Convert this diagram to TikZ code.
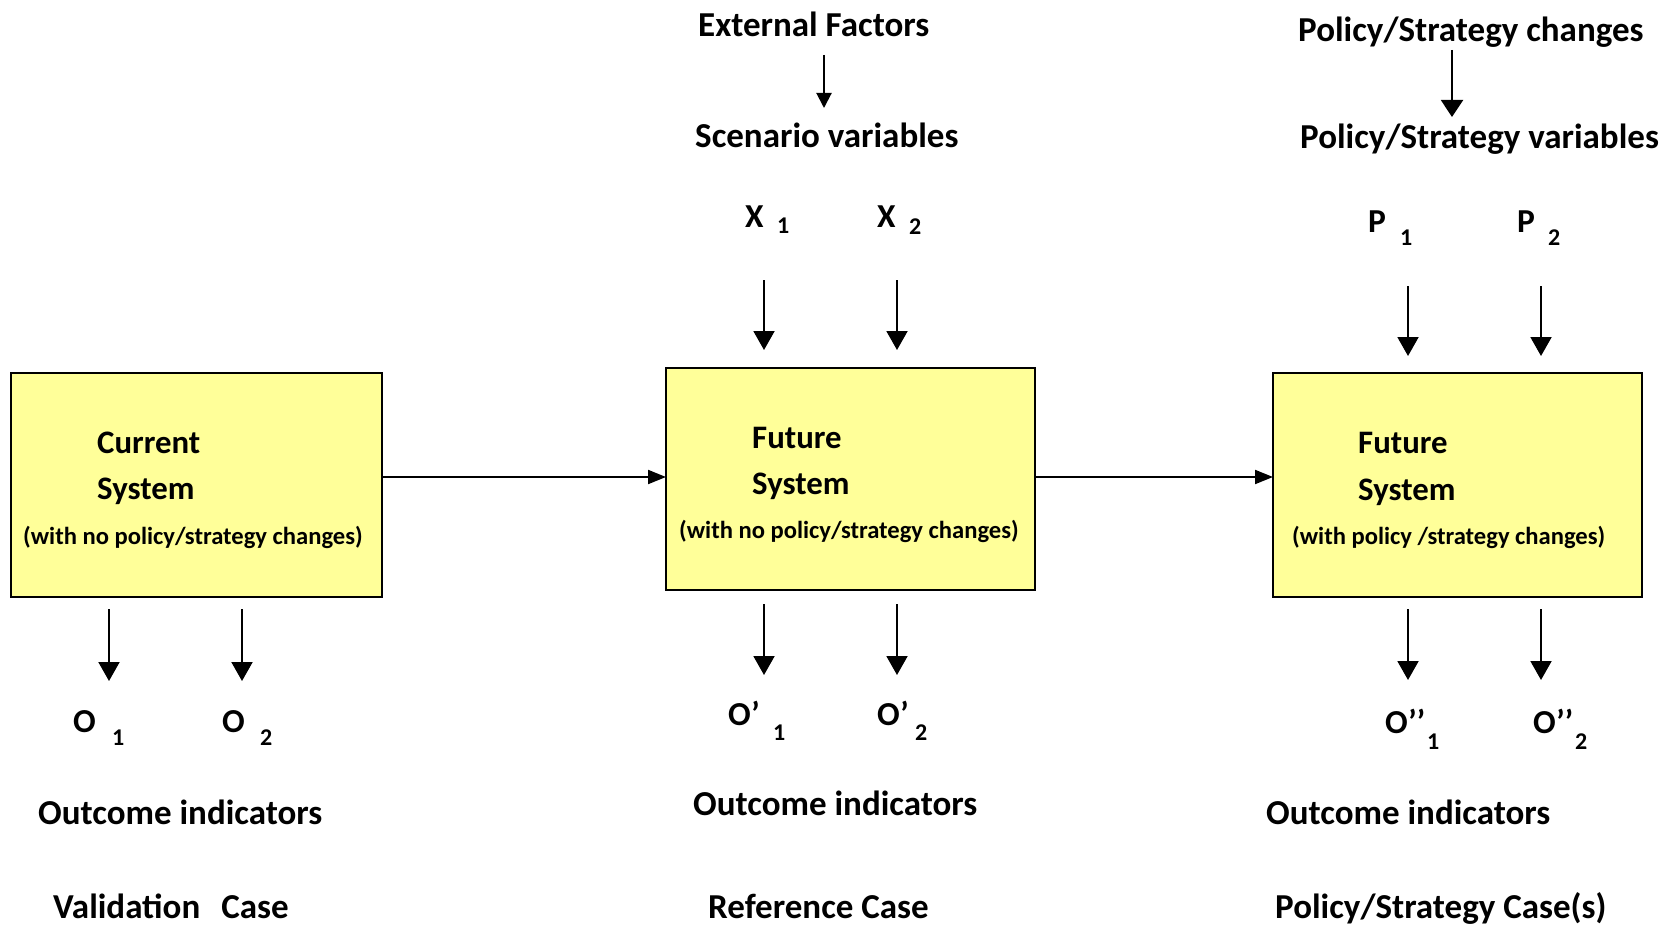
\documentclass[tikz,border=0pt]{standalone}
\usepackage{fontspec}
\setmainfont{Carlito}
\usetikzlibrary{arrows.meta}
\definecolor{boxyellow}{HTML}{FFFF99}
\begin{document}
\begin{tikzpicture}[x=1pt,y=-1pt,
  sysbox/.style={draw=black,line width=2.8pt,fill=boxyellow,anchor=north west,inner sep=0pt,outer sep=0pt},
  txt/.style={anchor=base west,inner sep=0pt,yshift=-2pt},
  lbl/.style={txt,font=\fontsize{35}{40}\selectfont\bfseries},
  boxtxt/.style={txt,font=\fontsize{32.8}{38}\selectfont\bfseries},
  partxt/.style={txt,font=\fontsize{24.6}{29}\selectfont\bfseries},
  var/.style={txt,font=\fontsize{33.5}{38}\selectfont\bfseries},
  subv/.style={txt,font=\fontsize{24}{28}\selectfont\bfseries},
  arr/.style={line width=2pt,-{Triangle[width=21pt,length=19pt]}},
  sarr/.style={line width=2pt,-{Triangle[width=15pt,length=15pt]}},
  harr/.style={line width=2pt,-{Triangle[width=14pt,length=18pt]}},
]
\useasboundingbox (0,0) rectangle (1673,931);

% boxes
\node[sysbox,minimum width=371pt,minimum height=224pt] (b1) at (11,373) {};
\node[sysbox,minimum width=369pt,minimum height=222pt] (b2) at (666,368) {};
\node[sysbox,minimum width=369pt,minimum height=224pt] (b3) at (1273,373) {};

% box texts
\node[boxtxt] (t1a) at (97,451) {Current};
\node[boxtxt] (t1b) at (97,497) {System};
\node[partxt] (t1c) at (23,542) {(with no policy/strategy changes)};
\node[boxtxt] (t2a) at (752,446) {Future};
\node[boxtxt] (t2b) at (752,492) {System};
\node[partxt] (t2c) at (679,536) {(with no policy/strategy changes)};
\node[boxtxt] (t3a) at (1358,451) {Future};
\node[boxtxt] (t3b) at (1358,498) {System};
\node[partxt] (t3c) at (1292,542) {(with policy /strategy changes)};

% box to box arrows
\coordinate (hy) at (0,477);
\draw[harr] (b1.east |- hy) -- (b2.west |- hy);
\draw[harr] (b2.east |- hy) -- (b3.west |- hy);

% top centre
\node[lbl] (ext) at (698,35) {External Factors};
\node[lbl] (scen) at (695,145) {Scenario variables};
\coordinate (e1) at (824,55);
\coordinate (e2) at (824,108);
\draw[sarr] (e1) -- (e2);
\node[var] (x1) at (745,225) {X};
\node[subv] (x1s) at (777,231) {1};
\node[var] (x2) at (877,225) {X};
\node[subv] (x2s) at (909,232) {2};
\coordinate (xa1) at (764,280); \coordinate (xb1) at (764,350);
\coordinate (xa2) at (897,280); \coordinate (xb2) at (897,350);
\draw[arr] (xa1) -- (xb1);
\draw[arr] (xa2) -- (xb2);

% top right
\node[lbl] (pchg) at (1298,40) {Policy/Strategy changes};
\node[lbl] (pvar) at (1300,147) {Policy/Strategy variables};
\coordinate (pc1) at (1452,50);
\coordinate (pc2) at (1452,117);
\draw[line width=2pt,-{Triangle[width=22pt,length=17pt]}] (pc1) -- (pc2);
\node[var] (p1) at (1368,230) {P};
\node[subv] (p1s) at (1400,243) {1};
\node[var] (p2) at (1517,230) {P};
\node[subv] (p2s) at (1548,243) {2};
\coordinate (pa1) at (1408,286); \coordinate (pb1) at (1408,356);
\coordinate (pa2) at (1541,286); \coordinate (pb2) at (1541,356);
\draw[arr] (pa1) -- (pb1);
\draw[arr] (pa2) -- (pb2);

% bottom left
\coordinate (oa1) at (109,609); \coordinate (ob1) at (109,681);
\coordinate (oa2) at (242,609); \coordinate (ob2) at (242,681);
\draw[arr] (oa1) -- (ob1);
\draw[arr] (oa2) -- (ob2);
\node[var] (o1) at (73,730) {O};
\node[subv] (o1s) at (112,743) {1};
\node[var] (o2) at (222,730) {O};
\node[subv] (o2s) at (260,743) {2};
\node[lbl] (out1) at (38,822) {Outcome indicators};
\node[lbl] (val) at (53,916) {Validation\hspace{0.6em}Case};

% bottom centre
\coordinate (qa1) at (764,604); \coordinate (qb1) at (764,675);
\coordinate (qa2) at (897,604); \coordinate (qb2) at (897,675);
\draw[arr] (qa1) -- (qb1);
\draw[arr] (qa2) -- (qb2);
\node[var] (q1) at (728,723) {O’};
\node[subv] (q1s) at (773,738) {1};
\node[var] (q2) at (877,723) {O’};
\node[subv] (q2s) at (915,738) {2};
\node[lbl] (out2) at (693,813) {Outcome indicators};
\node[lbl] (ref) at (708,916) {Reference Case};

% bottom right
\coordinate (ra1) at (1408,609); \coordinate (rb1) at (1408,680);
\coordinate (ra2) at (1541,609); \coordinate (rb2) at (1541,680);
\draw[arr] (ra1) -- (rb1);
\draw[arr] (ra2) -- (rb2);
\node[var] (r1) at (1385,731) {O’’};
\node[subv] (r1s) at (1427,747) {1};
\node[var] (r2) at (1533,731) {O’’};
\node[subv] (r2s) at (1575,747) {2};
\node[lbl] (out3) at (1266,822) {Outcome indicators};
\node[lbl] (pol) at (1275,916) {Policy/Strategy Case(s)};
\end{tikzpicture}
\end{document}
